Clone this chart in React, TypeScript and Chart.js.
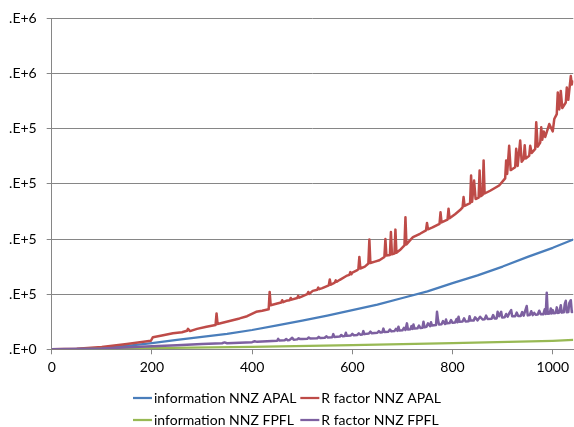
import React, { useEffect, useRef } from 'react';
import { Chart, registerables } from 'chart.js';

Chart.register(...registerables);

const FONT = "Lato, 'Liberation Sans', sans-serif";
const GRID = '#868686';
const TEXT = '#000000';

const xMin = 0;
const xMax = 1041;
const xStep = 200;
const yMax = 1200; // thousands
const yStep = 200;
const yTickLabels = ['.E+0', '.E+5', '.E+5', '.E+5', '.E+5', '.E+6', '.E+6'];

const seriesNames = [
  'information NNZ APAL',
  'R factor NNZ APAL',
  'information NNZ FPFL',
  'R factor NNZ FPFL',
];
const seriesColors = ['#4A7EBB', '#BE4B48', '#98B954', '#7D60A0'];
const seriesWidths = [2.25, 2.5, 2.25, 2.5];

// information NNZ APAL (values in thousands)
const infoApalX = [0, 50, 100, 150, 200, 250, 300, 350, 400, 450, 500, 550, 600, 650, 700, 750, 800, 850, 900, 950, 1000, 1041];
const infoApalY = [0, 1, 5, 12, 22, 34, 45, 56, 70, 87, 104, 122, 142, 162, 186, 210, 240, 268, 300, 335, 368, 398];

// R factor NNZ APAL
const rApalX = [
  0, 50, 100, 150, 198, 202, 220, 242, 260, 270, 272, 276, 290, 309, 327, 329, 331, 349, 375, 390, 408, 420,
  433, 435, 437, 450, 458, 460, 462, 468, 475, 477, 479, 490, 492, 494, 500, 510, 512, 514, 521, 530, 532, 534,
  540, 553, 555, 557, 565, 567, 569, 575, 588, 594, 596, 598, 600, 608, 612, 614, 616, 625,
  632, 634, 636, 645, 654, 664, 666, 668, 675, 677, 679, 684, 686, 688, 695, 704, 706, 708, 715, 721, 735, 747,
  749, 751, 760, 774, 776, 778, 790, 792, 794, 805, 815, 820, 822, 824, 835, 837, 839, 843, 846, 852, 854, 856,
  860, 862, 864, 875, 893, 905, 907, 909, 913, 916, 925, 927, 930, 935, 938, 942, 944, 946, 953, 955, 958, 965,
  967, 970, 975, 977, 979, 982, 985, 993, 1000, 1003, 1008, 1010, 1013, 1016, 1019, 1026, 1028, 1031, 1036,
  1038, 1041,
];
const rApalY = [
  0, 2, 8, 19, 31, 44, 50, 58, 62, 67, 74, 66, 74, 82, 88, 130, 92, 100, 112, 120, 136, 140,
  145, 208, 160, 166, 170, 178, 171, 176, 178, 186, 180, 186, 194, 187, 192, 200, 208, 201, 212, 216, 224, 218,
  222, 232, 253, 234, 242, 250, 245, 252, 266, 270, 280, 272, 278, 285, 290, 335, 293, 300,
  311, 398, 313, 318, 323, 335, 400, 340, 342, 425, 345, 347, 434, 350, 360, 377, 479, 380, 395, 407, 419, 431,
  458, 435, 442, 455, 497, 460, 470, 510, 475, 490, 505, 515, 552, 520, 530, 630, 535, 612, 545, 550, 648, 555,
  560, 685, 565, 575, 594, 620, 685, 636, 738, 650, 660, 727, 665, 757, 680, 690, 740, 692, 702, 738, 712, 727,
  823, 735, 750, 805, 760, 790, 770, 817, 790, 835, 853, 931, 870, 937, 875, 895, 949, 905, 991,
  960, 975,
];

// information NNZ FPFL
const infoFpflX = [0, 200, 400, 600, 800, 1000, 1041];
const infoFpflY = [0, 4, 9, 15, 22, 31, 34];

// R factor NNZ FPFL
const rFpflX = [
  0, 100, 176, 250, 300, 340, 345, 350, 375, 400, 405, 410, 420, 440, 450, 452, 454, 465, 468, 471, 475, 480,
  483, 490, 493, 496, 500, 510, 513, 516, 530, 533, 536, 545, 548, 551, 560, 562, 564, 575, 578, 581, 585, 587,
  589, 597, 600, 603, 610, 613, 616, 620, 622, 624, 633, 636, 639, 650, 653, 656, 660, 662, 664, 672, 675, 678,
  684, 687, 690, 692, 694, 700, 703, 706, 709, 711, 716, 718, 720, 722, 724, 730, 733, 736, 740, 742, 744, 748,
  751, 755, 757, 759, 763, 767, 769, 771, 773, 778, 781, 785, 787, 789, 794, 797, 800, 805, 808, 810, 812, 814,
  820, 823, 826, 832, 834, 836, 842, 845, 850, 855, 860, 864, 867, 870, 878, 881, 884, 888, 890, 893, 897, 899,
  904, 907, 910, 913, 917, 919, 925, 928, 931, 936, 939, 942, 948, 950, 954, 957, 960, 963, 966, 970, 973, 976,
  981, 984, 986, 988, 990, 994, 996, 998, 1000, 1002, 1006, 1008, 1010, 1013, 1016, 1018, 1022, 1024, 1026,
  1028, 1031, 1033, 1036, 1038, 1041,
];
const rFpflY = [
  0, 3, 9, 15, 19, 22, 25, 22, 24, 26, 29, 27, 28, 30, 31, 38, 32, 33, 37, 33, 34, 42,
  35, 36, 40, 37, 37, 38, 43, 39, 40, 45, 41, 42, 47, 43, 44, 55, 45, 46, 52, 47, 48, 60,
  49, 50, 56, 51, 52, 58, 53, 54, 66, 55, 57, 64, 58, 60, 66, 61, 62, 75, 63, 64, 72, 65,
  66, 74, 67, 82, 68, 69, 78, 70, 94, 72, 73, 84, 74, 90, 75, 76, 86, 77, 78, 100, 80, 82,
  94, 84, 98, 86, 87, 88, 136, 106, 90, 91, 102, 92, 108, 94, 95, 106, 96, 97, 110, 98, 118, 100,
  101, 112, 101, 102, 120, 104, 104, 116, 105, 118, 108, 109, 122, 110, 111, 124, 112, 112, 136, 120, 136, 115,
  116, 128, 118, 130, 142, 120, 120, 133, 121, 121, 135, 122, 157, 123, 124, 138, 124, 132, 125, 126, 140, 127,
  127, 145, 128, 205, 129, 130, 148, 130, 142, 131, 132, 152, 132, 133, 160, 133, 134, 165, 176,
  134, 135, 168, 178, 135, 136,
];

const seriesX = [infoApalX, rApalX, infoFpflX, rFpflX];
const seriesY = [infoApalY, rApalY, infoFpflY, rFpflY];
// Excel draws later series on top
const drawOrder = [4, 3, 2, 1];

const twoColumnLegend = {
  id: 'twoColumnLegend',
  afterDraw(chart: any) {
    const ctx = chart.ctx as CanvasRenderingContext2D;
    const area = chart.chartArea;
    const swatch = 19;
    const gap = 2;
    const colGap = 4;
    ctx.save();
    ctx.font = `14px ${FONT}`;
    ctx.textBaseline = 'middle';
    ctx.textAlign = 'left';
    const widths = seriesNames.map((t) => ctx.measureText(t).width);
    const col1 = swatch + gap + Math.max(widths[0], widths[2]);
    const col2 = swatch + gap + Math.max(widths[1], widths[3]);
    const total = col1 + colGap + col2;
    const startX = (chart.width - total) / 2;
    const rowY = [area.bottom + 48.7, area.bottom + 70.7];
    seriesNames.forEach((name, i) => {
      const row = Math.floor(i / 2);
      const col = i % 2;
      const x = startX + (col === 0 ? 0 : col1 + colGap);
      const y = rowY[row];
      ctx.strokeStyle = seriesColors[i];
      ctx.lineWidth = 2.25;
      ctx.beginPath();
      ctx.moveTo(x, y);
      ctx.lineTo(x + swatch, y);
      ctx.stroke();
      ctx.fillStyle = TEXT;
      ctx.fillText(name, x + swatch + gap, y);
    });
    ctx.restore();
  },
};

export default function App() {
  const canvasRef = useRef<HTMLCanvasElement | null>(null);

  useEffect(() => {
    if (!canvasRef.current) return;
    const datasets = seriesNames.map((name, i) => ({
      label: name,
      data: seriesX[i].map((x, j) => ({ x, y: seriesY[i][j] })),
      borderColor: seriesColors[i],
      backgroundColor: seriesColors[i],
      borderWidth: seriesWidths[i],
      borderJoinStyle: 'round' as const,
      pointRadius: 0,
      tension: 0,
      fill: false,
      order: drawOrder[i],
    }));
    const chart = new Chart(canvasRef.current, {
      type: 'line',
      data: { datasets },
      options: {
        animation: false,
        responsive: false,
        layout: { padding: { top: 17.3, left: 0, right: 0, bottom: 47.7 } },
        plugins: {
          legend: { display: false },
          tooltip: { enabled: false },
        },
        scales: {
          x: {
            type: 'linear',
            min: xMin,
            max: xMax,
            afterFit: (scale: any) => {
              scale.height = 30;
            },
            ticks: {
              stepSize: xStep,
              includeBounds: false,
              padding: 5,
              color: TEXT,
              font: { family: FONT, size: 14 },
              maxRotation: 0,
              callback: (v: any) => `${v}`,
            },
            grid: {
              drawOnChartArea: false,
              drawTicks: true,
              tickLength: 5,
              color: GRID,
            },
            border: { display: true, color: GRID, width: 1 },
          },
          y: {
            type: 'linear',
            min: 0,
            max: yMax,
            afterFit: (scale: any) => {
              scale.width = 51.7;
            },
            ticks: {
              stepSize: yStep,
              padding: 10,
              color: TEXT,
              font: { family: FONT, size: 14 },
              callback: (_v: any, idx: number) => yTickLabels[idx],
            },
            grid: {
              color: GRID,
              lineWidth: 1,
              drawTicks: true,
              tickLength: 5,
            },
            border: { display: true, color: GRID, width: 1 },
          },
        },
      },
      plugins: [twoColumnLegend],
    });
    return () => chart.destroy();
  }, []);

  return (
    <div style={{ position: 'absolute', left: 0, top: 0, width: 574, height: 427, background: '#fff' }}>
      <canvas ref={canvasRef} width={574} height={427} style={{ width: 574, height: 427, display: 'block' }} />
    </div>
  );
}
